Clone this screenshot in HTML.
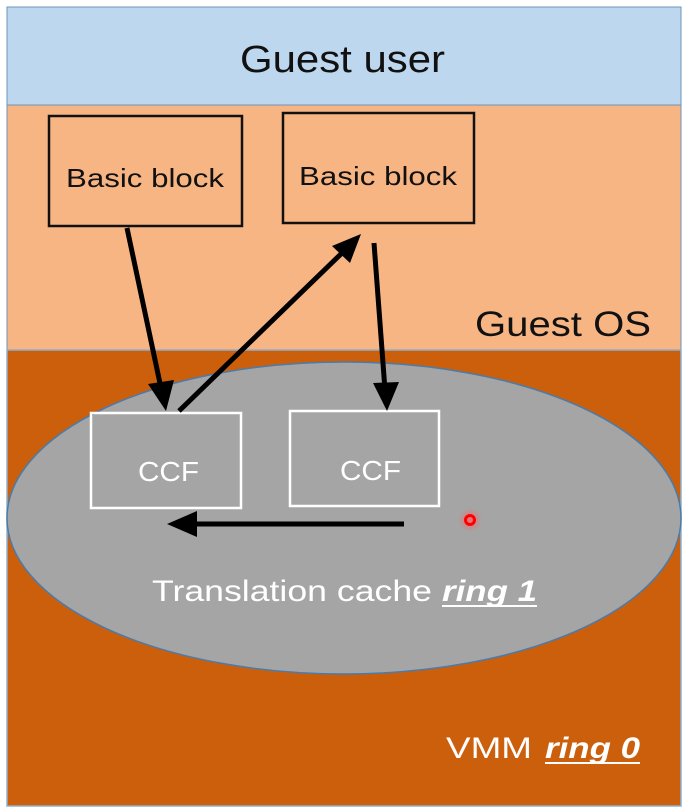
<!DOCTYPE html>
<html><head><style>
html,body{margin:0;padding:0;background:#fff;}
svg{display:block;}
text{font-family:"Liberation Sans",sans-serif;}
</style></head><body>
<svg width="684" height="811" viewBox="0 0 684 811" xmlns="http://www.w3.org/2000/svg">
<defs>
<radialGradient id="g"><stop offset="0" stop-color="#ff6060" stop-opacity="0.8"/><stop offset="1" stop-color="#ff6060" stop-opacity="0"/></radialGradient>
</defs>
<rect x="0" y="0" width="684" height="811" fill="#fff"/>
<rect x="7" y="7" width="674" height="98" fill="#bdd7ee" stroke="#6f94bb" stroke-width="1"/>
<rect x="7" y="105" width="674" height="245" fill="#f8b584" stroke="#6f94bb" stroke-width="1"/>
<rect x="7" y="350" width="674" height="456" fill="#cc5f0c" stroke="#8fb0d0" stroke-width="1.5"/>
<ellipse cx="344" cy="518" rx="337" ry="156" fill="#a5a5a5" stroke="#4a7bab" stroke-width="1.5"/>
<text x="240" y="72" font-size="38" textLength="205" lengthAdjust="spacingAndGlyphs" fill="#111">Guest user</text>
<text x="475" y="336" font-size="35" textLength="176" lengthAdjust="spacingAndGlyphs" fill="#111">Guest OS</text>
<rect x="49" y="116" width="193" height="110" fill="none" stroke="#111" stroke-width="2.5"/>
<rect x="283" y="113" width="191" height="110" fill="none" stroke="#111" stroke-width="2.5"/>
<text x="66" y="187" font-size="26" textLength="158" lengthAdjust="spacingAndGlyphs" fill="#111">Basic block</text>
<text x="299" y="185" font-size="26" textLength="158" lengthAdjust="spacingAndGlyphs" fill="#111">Basic block</text>
<rect x="91" y="413" width="150" height="95" fill="none" stroke="#fff" stroke-width="2.5"/>
<rect x="290" y="411" width="149" height="95" fill="none" stroke="#fff" stroke-width="2.5"/>
<text x="138" y="481" font-size="28" textLength="61" lengthAdjust="spacingAndGlyphs" fill="#fff">CCF</text>
<text x="340" y="480" font-size="28" textLength="61" lengthAdjust="spacingAndGlyphs" fill="#fff">CCF</text>
<g stroke="#000" stroke-width="5" fill="#000">
<line x1="127" y1="228" x2="161" y2="388"/>
<line x1="179" y1="411" x2="343" y2="252"/>
<line x1="374" y1="243" x2="385" y2="390"/>
<line x1="404" y1="524" x2="190" y2="524"/>
</g>
<polygon points="166,411 148,384 174,380" fill="#000"/>
<polygon points="361,234 350,263 332,246" fill="#000"/>
<polygon points="387,411 373,383 399,382" fill="#000"/>
<polygon points="167,524 197,511 197,537" fill="#000"/>
<circle cx="470" cy="520" r="12" fill="url(#g)"/>
<circle cx="470" cy="520" r="4.5" fill="none" stroke="#ff0000" stroke-width="3"/>
<text x="152" y="601" font-size="30" textLength="280" lengthAdjust="spacingAndGlyphs" fill="#fff">Translation cache</text>
<text x="442" y="601" font-size="30" font-weight="bold" font-style="italic" textLength="95" lengthAdjust="spacingAndGlyphs" fill="#fff">ring 1</text>
<line x1="442" y1="606" x2="537" y2="606" stroke="#fff" stroke-width="2"/>
<text x="446" y="758" font-size="30" textLength="86" lengthAdjust="spacingAndGlyphs" fill="#fff">VMM</text>
<text x="545" y="758" font-size="30" font-weight="bold" font-style="italic" textLength="95" lengthAdjust="spacingAndGlyphs" fill="#fff">ring 0</text>
<line x1="545" y1="763" x2="640" y2="763" stroke="#fff" stroke-width="2"/>
</svg>
</body></html>
